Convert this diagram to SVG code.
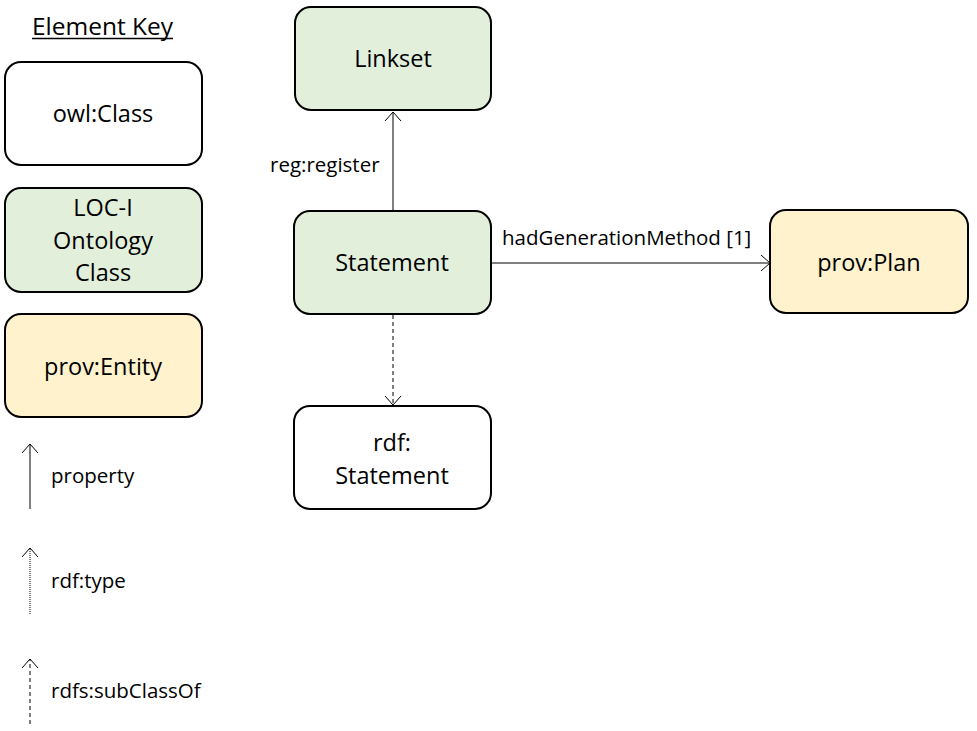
<svg xmlns="http://www.w3.org/2000/svg" width="977" height="731" viewBox="0 0 977 731">
<defs>
<style>
.box{stroke:#000;stroke-width:2}
.white{fill:#fff}
.green{fill:#E2EFDA}
.yellow{fill:#FFF2CC}
.t{font-family:"Open Sans","Liberation Sans",sans-serif;font-size:23.5px;fill:#000;text-anchor:middle}
.l{font-family:"Open Sans","Liberation Sans",sans-serif;font-size:20.5px;fill:#000}
.c{stroke:#000;stroke-width:1;fill:none}
</style>
<marker id="arr" markerWidth="20" markerHeight="20" refX="10" refY="10" orient="auto" markerUnits="userSpaceOnUse">
<path d="M1,2 L10,10 L1,18" fill="none" stroke="#000" stroke-width="1"/>
</marker>
</defs>
<rect width="977" height="731" fill="#fff"/>
<g id="key">
<text x="102.5" y="35" class="t" style="font-size:24.5px">Element Key</text>
<line x1="32" y1="38.5" x2="173" y2="38.5" stroke="#000" stroke-width="1.5"/>
</g>
<g id="key-owl"><rect class="box white" x="5" y="62" width="197" height="103" rx="16"/><text class="t" x="103" y="122">owl:Class</text></g>
<g id="key-loci"><rect class="box green" x="5" y="188" width="197" height="104" rx="16"/><text class="t" x="103" y="216">LOC-I</text><text class="t" x="103" y="249">Ontology</text><text class="t" x="103" y="281">Class</text></g>
<g id="key-prov"><rect class="box yellow" x="5" y="314" width="197" height="103" rx="16"/><text class="t" x="103" y="375">prov:Entity</text></g>
<g id="key-lines">
<line class="c" x1="30" y1="509" x2="30" y2="444" marker-end="url(#arr)"/>
<text class="l" x="51" y="483">property</text>
<line class="c" x1="30" y1="614" x2="30" y2="548" stroke-dasharray="1,1" marker-end="url(#arr)"/>
<text class="l" x="51" y="588">rdf:type</text>
<line class="c" x1="30" y1="724" x2="30" y2="659" stroke-dasharray="4,3" marker-end="url(#arr)"/>
<text class="l" x="51" y="698">rdfs:subClassOf</text>
</g>
<g id="connectors">
<line class="c" x1="393" y1="211" x2="393" y2="112" marker-end="url(#arr)"/>
<text class="l" x="270" y="172">reg:register</text>
<line class="c" x1="491" y1="263" x2="770" y2="263" marker-end="url(#arr)"/>
<text class="l" x="502" y="245">hadGenerationMethod [1]</text>
<line class="c" x1="393" y1="315" x2="393" y2="405" stroke-dasharray="4,3" marker-end="url(#arr)"/>
</g>
<g id="linkset"><rect class="box green" x="295" y="7" width="196" height="103" rx="16"/><text class="t" x="393" y="67">Linkset</text></g>
<g id="statement"><rect class="box green" x="294" y="211" width="197" height="103" rx="16"/><text class="t" x="392" y="271">Statement</text></g>
<g id="rdfstatement"><rect class="box white" x="294" y="406" width="197" height="103" rx="16"/><text class="t" x="392" y="451">rdf:</text><text class="t" x="392" y="484">Statement</text></g>
<g id="provplan"><rect class="box yellow" x="770" y="210" width="198" height="103" rx="16"/><text class="t" x="869" y="271">prov:Plan</text></g>
</svg>
